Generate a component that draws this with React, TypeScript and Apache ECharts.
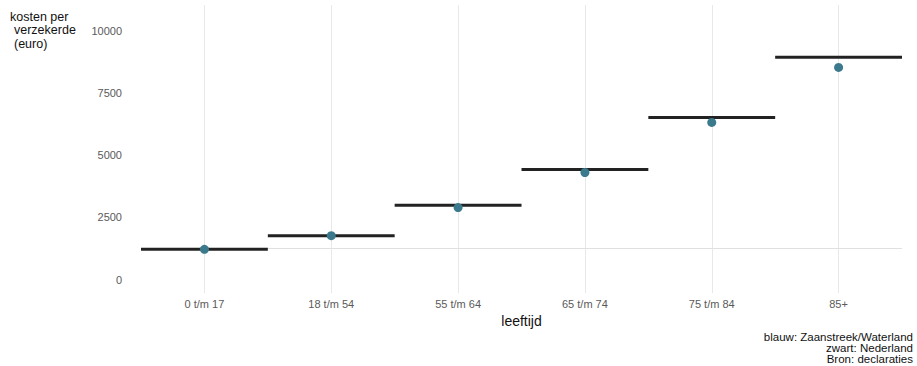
import React, { useEffect, useRef } from "react";
import * as echarts from "echarts";

const categories = ["0 t/m 17", "18 t/m 54", "55 t/m 64", "65 t/m 74", "75 t/m 84", "85+"];
const nederland = [1220, 1765, 2990, 4425, 6520, 8940];
const zaanstreek = [1215, 1765, 2895, 4305, 6320, 8535];
const yTicks = [0, 2500, 5000, 7500, 10000];
const referenceValue = 1270;
const yTitleLines = ["kosten per", "verzekerde", "(euro)"];
const captionLines = ["blauw: Zaanstreek/Waterland", "zwart: Nederland", "Bron: declaraties"];

const FONT = "'Liberation Sans', Arial, sans-serif";

export default function App() {
  const ref = useRef<HTMLDivElement>(null);
  useEffect(() => {
    if (!ref.current) return;
    const chart = echarts.init(ref.current, undefined, { renderer: "svg" });
    const option: any = {
      animation: false,
      backgroundColor: "#ffffff",
      textStyle: { fontFamily: FONT },
      grid: { left: 141, right: 15, top: 5, bottom: 73, containLabel: false },
      xAxis: {
        type: "category",
        data: categories,
        boundaryGap: true,
        axisLine: { show: false },
        axisTick: { show: false },
        splitLine: { show: false },
        axisLabel: { color: "#5a5a5a", fontSize: 11, margin: 5, fontFamily: FONT },
        name: "leeftijd",
        nameLocation: "middle",
        nameGap: 19,
        nameTextStyle: { color: "#111111", fontSize: 14, fontFamily: FONT },
      },
      yAxis: {
        type: "value",
        min: -543,
        max: 11046,
        axisLine: { show: false },
        axisTick: { show: false },
        splitLine: { show: false },
        axisLabel: {
          color: "#5a5a5a",
          fontSize: 11,
          margin: 19,
          fontFamily: FONT,
          customValues: yTicks,
          formatter: (v: number) => String(v),
        },
      },
      graphic: [
        ...yTitleLines.map((t, i) => ({
          type: "text",
          left: i === 0 ? 10 : 14,
          top: 10 + i * 13.5,
          style: { text: t, fill: "#111111", font: `12.5px ${FONT}` },
        })),
        ...captionLines.map((t, i) => ({
          type: "text",
          right: 4,
          top: 331 + i * 11,
          style: { text: t, fill: "#111111", font: `11.5px ${FONT}`, textAlign: "right" },
        })),
      ],
      series: [
        {
          type: "custom",
          z: 3,
          data: categories.map((c, i) => [i, nederland[i]]),
          renderItem: (params: any, api: any) => {
            const c = api.coord([api.value(0), api.value(1)]);
            const w = api.size([1, 0])[0];
            return {
              type: "line",
              shape: { x1: c[0] - w / 2, y1: c[1], x2: c[0] + w / 2, y2: c[1] },
              style: { stroke: "#222222", lineWidth: 3 },
            };
          },
          encode: { x: 0, y: 1 },
        },
        {
          type: "scatter",
          z: 4,
          data: categories.map((c, i) => [i, zaanstreek[i]]),
          symbolSize: 9,
          itemStyle: { color: "#3b7a8c", opacity: 1 },
          markLine: {
            silent: true,
            symbol: "none",
            label: { show: false },
            z: 1,
            lineStyle: { color: "#e8e8e8", width: 1, type: "solid" },
            data: [
              ...categories.map((c) => ({ xAxis: c })),
              { yAxis: referenceValue, lineStyle: { color: "#e0e0e0", width: 1, type: "solid" } },
            ],
          },
        },
      ],
    };
    chart.setOption(option);
    return () => chart.dispose();
  }, []);
  return (
    <div
      ref={ref}
      style={{ position: "absolute", left: 0, top: 0, width: 917, height: 366 }}
    />
  );
}
